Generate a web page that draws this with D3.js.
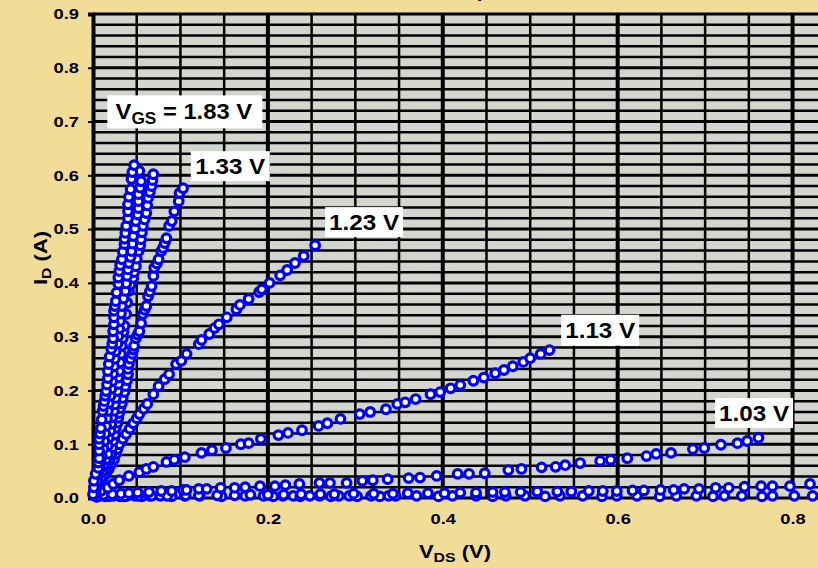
<!DOCTYPE html>
<html>
<head>
<meta charset="utf-8">
<script src="https://cdn.jsdelivr.net/npm/d3@7"></script>
<style>
  body { margin: 0; background: #F1DD97; }
  svg { display: block; font-family: Arial, "Liberation Sans", sans-serif; }
</style>
</head>
<body>
<svg id="chart" width="818" height="568"></svg>
<script>
// Drain current I_D (A) versus drain voltage V_DS (V), one array per gate voltage.
// Each entry is [V_DS, I_D].
const vgs183 = [[0.000,0.007],[0.001,0.020],[0.001,0.032],[0.003,0.045],[0.006,0.056],[0.006,0.066],[0.007,0.074],[0.007,0.088],[0.007,0.100],[0.007,0.110],[0.008,0.120],[0.009,0.130],[0.010,0.146],[0.011,0.162],[0.012,0.171],[0.013,0.180],[0.014,0.190],[0.015,0.199],[0.016,0.211],[0.017,0.223],[0.017,0.236],[0.018,0.249],[0.019,0.263],[0.021,0.277],[0.022,0.287],[0.023,0.297],[0.023,0.310],[0.024,0.323],[0.024,0.336],[0.024,0.348],[0.025,0.357],[0.026,0.366],[0.027,0.382],[0.029,0.398],[0.029,0.410],[0.030,0.422],[0.031,0.433],[0.033,0.444],[0.034,0.458],[0.036,0.472],[0.036,0.482],[0.037,0.493],[0.038,0.506],[0.040,0.520],[0.040,0.533],[0.040,0.546],[0.041,0.560],[0.043,0.574],[0.044,0.593],[0.045,0.606],[0.047,0.619]];
const vgs163 = [[0.001,0.012],[0.003,0.022],[0.005,0.032],[0.006,0.043],[0.008,0.054],[0.009,0.066],[0.010,0.078],[0.012,0.092],[0.013,0.106],[0.014,0.120],[0.015,0.134],[0.016,0.148],[0.017,0.162],[0.018,0.176],[0.020,0.190],[0.021,0.203],[0.022,0.217],[0.023,0.231],[0.024,0.245],[0.025,0.259],[0.026,0.273],[0.028,0.287],[0.029,0.301],[0.030,0.315],[0.031,0.329],[0.032,0.343],[0.033,0.357],[0.035,0.371],[0.037,0.385],[0.038,0.399],[0.039,0.413],[0.040,0.425],[0.041,0.437],[0.043,0.448],[0.044,0.459],[0.045,0.473],[0.046,0.487],[0.048,0.501],[0.049,0.515],[0.051,0.527],[0.052,0.539],[0.052,0.552],[0.052,0.565],[0.054,0.577],[0.055,0.589],[0.053,0.608]];
const vgs143 = [[0.002,0.010],[0.003,0.019],[0.006,0.028],[0.009,0.037],[0.011,0.050],[0.013,0.063],[0.015,0.072],[0.017,0.082],[0.017,0.097],[0.018,0.112],[0.020,0.125],[0.021,0.138],[0.022,0.150],[0.024,0.162],[0.025,0.174],[0.026,0.186],[0.028,0.199],[0.029,0.212],[0.029,0.224],[0.030,0.236],[0.031,0.252],[0.032,0.268],[0.033,0.283],[0.034,0.297],[0.035,0.309],[0.036,0.320],[0.038,0.342],[0.039,0.363],[0.041,0.385],[0.043,0.397],[0.046,0.409],[0.047,0.420],[0.049,0.431],[0.050,0.445],[0.052,0.459],[0.054,0.470],[0.055,0.481],[0.056,0.494],[0.057,0.506],[0.059,0.518],[0.061,0.530],[0.062,0.544],[0.063,0.558],[0.065,0.569],[0.067,0.580],[0.068,0.591],[0.069,0.602]];
const vgs133 = [[0.003,0.013],[0.007,0.026],[0.010,0.036],[0.013,0.045],[0.015,0.054],[0.017,0.063],[0.019,0.072],[0.021,0.082],[0.022,0.094],[0.023,0.106],[0.025,0.118],[0.026,0.130],[0.028,0.140],[0.029,0.149],[0.030,0.158],[0.031,0.167],[0.033,0.176],[0.034,0.186],[0.036,0.197],[0.037,0.208],[0.039,0.219],[0.040,0.230],[0.040,0.240],[0.041,0.249],[0.043,0.259],[0.045,0.268],[0.046,0.276],[0.047,0.283],[0.049,0.297],[0.051,0.304],[0.053,0.310],[0.055,0.325],[0.057,0.342],[0.059,0.350],[0.061,0.357],[0.063,0.375],[0.065,0.384],[0.067,0.394],[0.069,0.413],[0.070,0.428],[0.073,0.436],[0.075,0.444],[0.078,0.459],[0.080,0.465],[0.082,0.474],[0.084,0.483],[0.087,0.506],[0.090,0.515],[0.093,0.533],[0.098,0.552],[0.099,0.567],[0.103,0.576]];
const vgs123 = [[0.003,0.010],[0.007,0.026],[0.011,0.036],[0.015,0.045],[0.018,0.054],[0.021,0.063],[0.024,0.072],[0.026,0.082],[0.028,0.091],[0.030,0.100],[0.034,0.110],[0.038,0.119],[0.042,0.129],[0.046,0.139],[0.050,0.148],[0.053,0.156],[0.058,0.166],[0.062,0.175],[0.069,0.193],[0.075,0.208],[0.082,0.221],[0.087,0.230],[0.095,0.249],[0.101,0.255],[0.107,0.268],[0.121,0.286],[0.124,0.294],[0.133,0.305],[0.139,0.316],[0.144,0.323],[0.153,0.336],[0.164,0.351],[0.168,0.359],[0.178,0.370],[0.190,0.383],[0.193,0.388],[0.202,0.400],[0.214,0.414],[0.222,0.424],[0.231,0.437],[0.241,0.450],[0.254,0.470]];
const vgs113 = [[0.002,0.008],[0.009,0.013],[0.017,0.019],[0.023,0.026],[0.030,0.033],[0.041,0.041],[0.053,0.048],[0.061,0.054],[0.069,0.058],[0.084,0.067],[0.093,0.071],[0.105,0.076],[0.124,0.084],[0.136,0.089],[0.152,0.093],[0.169,0.100],[0.178,0.102],[0.192,0.110],[0.212,0.117],[0.223,0.121],[0.239,0.126],[0.258,0.134],[0.268,0.139],[0.283,0.147],[0.305,0.156],[0.317,0.160],[0.335,0.165],[0.348,0.175],[0.357,0.178],[0.369,0.184],[0.386,0.193],[0.397,0.197],[0.409,0.204],[0.420,0.210],[0.435,0.218],[0.447,0.224],[0.460,0.232],[0.470,0.238],[0.480,0.245],[0.492,0.253],[0.500,0.260],[0.512,0.268],[0.522,0.275]];
const vgs103 = [[0.001,0.005],[0.012,0.006],[0.022,0.007],[0.032,0.008],[0.041,0.009],[0.051,0.010],[0.064,0.011],[0.078,0.013],[0.090,0.013],[0.103,0.015],[0.107,0.015],[0.121,0.017],[0.130,0.017],[0.146,0.019],[0.162,0.019],[0.174,0.020],[0.191,0.022],[0.208,0.022],[0.220,0.024],[0.236,0.026],[0.259,0.028],[0.271,0.028],[0.290,0.028],[0.308,0.032],[0.320,0.033],[0.337,0.035],[0.361,0.037],[0.374,0.038],[0.393,0.041],[0.417,0.045],[0.430,0.045],[0.448,0.046],[0.475,0.052],[0.490,0.054],[0.513,0.057],[0.529,0.058],[0.540,0.061],[0.557,0.065],[0.580,0.069],[0.592,0.071],[0.611,0.074],[0.633,0.078],[0.644,0.082],[0.661,0.084],[0.686,0.091],[0.699,0.093],[0.718,0.099],[0.737,0.102],[0.748,0.106],[0.761,0.112]];
const vgs093 = [[0.004,0.002],[0.018,0.003],[0.036,0.003],[0.052,0.004],[0.067,0.004],[0.085,0.004],[0.106,0.005],[0.121,0.005],[0.142,0.005],[0.162,0.005],[0.180,0.006],[0.200,0.006],[0.218,0.006],[0.238,0.007],[0.260,0.007],[0.276,0.007],[0.298,0.008],[0.321,0.008],[0.343,0.008],[0.360,0.009],[0.383,0.009],[0.402,0.009],[0.420,0.010],[0.438,0.010],[0.457,0.011],[0.471,0.011],[0.489,0.011],[0.508,0.012],[0.531,0.012],[0.547,0.012],[0.567,0.013],[0.583,0.013],[0.599,0.013],[0.617,0.014],[0.630,0.014],[0.649,0.015],[0.664,0.015],[0.676,0.017],[0.693,0.017],[0.712,0.019],[0.727,0.019],[0.745,0.021],[0.764,0.022],[0.777,0.022],[0.797,0.022],[0.820,0.026],[0.838,0.027],[0.857,0.028]];
const vgs083 = [[0.005,0.003],[0.008,0.004],[0.014,0.003],[0.023,0.004],[0.031,0.003],[0.039,0.004],[0.048,0.004],[0.056,0.003],[0.065,0.004],[0.077,0.004],[0.090,0.003],[0.105,0.004],[0.122,0.004],[0.147,0.003],[0.174,0.004],[0.195,0.004],[0.206,0.003],[0.217,0.004],[0.229,0.004],[0.237,0.003],[0.248,0.004],[0.259,0.004],[0.272,0.003],[0.281,0.004],[0.293,0.004],[0.302,0.003],[0.318,0.004],[0.328,0.003],[0.338,0.004],[0.346,0.004],[0.370,0.004],[0.395,0.003],[0.411,0.004],[0.438,0.004],[0.457,0.003],[0.472,0.004],[0.494,0.004],[0.517,0.003],[0.534,0.004],[0.560,0.004],[0.582,0.003],[0.599,0.004],[0.622,0.004],[0.648,0.003],[0.667,0.004],[0.690,0.004],[0.709,0.003],[0.722,0.004],[0.742,0.004],[0.765,0.003],[0.777,0.004],[0.802,0.004],[0.823,0.004],[0.845,0.004]];

// Series drawn bottom to top.
const seriesList = [vgs083, vgs093, vgs103, vgs113, vgs123, vgs133, vgs143, vgs163, vgs183];

// Curve labels.
const labelTexts = ["1.33 V", "1.23 V", "1.13 V", "1.03 V"];
const mainLabelPrefix = "V";
const mainLabelSub = "GS";
const mainLabelValue = " = 1.83 V";

// Axis ticks.
const xTicks = [0.0, 0.2, 0.4, 0.6, 0.8];
const yTicks = [0.0, 0.1, 0.2, 0.3, 0.4, 0.5, 0.6, 0.7, 0.8, 0.9];
const chartTitle = "Output Characteristics";

(function draw() {
  const svg = d3.select("#chart");
  const W = 818, H = 568;
  const plotLeft = 93, plotTop = 14, plotRight = 880, plotBottom = 498;
  const FONT = "Arial, 'Liberation Sans', sans-serif";
  const wide = 1.22;   // horizontal widening of all lettering

  const x = d3.scaleLinear().domain([0, 0.9]).range([plotLeft, plotRight]);
  const y = d3.scaleLinear().domain([0, 0.9]).range([plotBottom, plotTop]);

  svg.append("rect").attr("width", W).attr("height", H).attr("fill", "#F1DD97");

  // Title (mostly above the visible area)
  svg.append("g").attr("transform", "translate(441,-2)")
    .append("text").attr("transform", `scale(${wide},1)`)
    .attr("font-size", 17).attr("font-weight", "bold").attr("fill", "#000")
    .text(chartTitle);

  // Plot background
  svg.append("rect")
    .attr("x", x(0)).attr("y", y(0.9))
    .attr("width", x(0.9) - x(0)).attr("height", y(0) - y(0.9) + 2)
    .attr("fill", "#D2D6CF");

  const grid = svg.append("g");
  const hVals = d3.range(0, 46).map(i => i * 0.02);
  grid.selectAll("line.h").data(hVals).join("line")
    .attr("class", "h")
    .attr("x1", x(0)).attr("x2", x(0.9))
    .attr("y1", d => y(d)).attr("y2", d => y(d))
    .attr("stroke", "#000")
    .attr("stroke-width", d => (Math.round(d * 50) % 5 === 0) ? 3 : 2.5);

  const vVals = d3.range(1, 19).map(i => i * 0.05);
  grid.selectAll("line.v").data(vVals).join("line")
    .attr("class", "v")
    .attr("y1", y(0)).attr("y2", y(0.9))
    .attr("x1", d => x(d)).attr("x2", d => x(d))
    .attr("stroke", "#000")
    .attr("stroke-width", d => (Math.round(d * 20) % 4 === 0) ? 4 : 2.5);

  // Y axis
  const yAxis = d3.axisLeft(y).tickValues(yTicks).tickFormat(d3.format(".1f")).tickSize(5).tickPadding(9);
  const gy = svg.append("g").attr("transform", `translate(${x(0)},0)`).call(yAxis);
  gy.select(".domain").attr("stroke", "#000").attr("stroke-width", 4);
  gy.selectAll(".tick line").attr("stroke", "#000").attr("stroke-width", 2);
  gy.selectAll(".tick text")
    .attr("font-size", 15).attr("font-weight", "bold").attr("fill", "#000").attr("font-family", FONT)
    .attr("x", -14 / wide).attr("transform", `scale(${wide},1)`);

  // X axis
  const xAxis = d3.axisBottom(x).tickValues(xTicks).tickFormat(d3.format(".1f")).tickSize(0).tickPadding(15);
  const gx = svg.append("g").attr("transform", `translate(0,${y(0)})`).call(xAxis);
  gx.select(".domain").remove();
  gx.selectAll(".tick text")
    .attr("font-size", 15).attr("font-weight", "bold").attr("fill", "#000").attr("font-family", FONT)
    .attr("transform", `scale(${wide},1)`);

  // Data points
  const pts = svg.append("g");
  seriesList.forEach(s => {
    pts.append("g").selectAll("circle").data(s).join("circle")
      .attr("cx", d => x(d[0])).attr("cy", d => y(d[1]))
      .attr("r", 4.3)
      .attr("fill", "#fff").attr("stroke", "#0000FF").attr("stroke-width", 3.2);
  });

  // Labels: white boxes with bold text; positions given in data units
  const labelLayout = [
    { text: labelTexts[0], cx: 0.157, cy: 0.617, w: 79, h: 30 },
    { text: labelTexts[1], cx: 0.310, cy: 0.513, w: 78, h: 30 },
    { text: labelTexts[2], cx: 0.580, cy: 0.312, w: 78, h: 31 },
    { text: labelTexts[3], cx: 0.756, cy: 0.158, w: 78, h: 30 }
  ];
  const lab = svg.append("g");
  labelLayout.forEach(L => {
    const cx = x(L.cx), cy = y(L.cy);
    lab.append("rect").attr("x", cx - L.w / 2).attr("y", cy - L.h / 2)
      .attr("width", L.w).attr("height", L.h).attr("fill", "#fff");
    lab.append("g").attr("transform", `translate(${cx},${cy + 8})`)
      .append("text").attr("transform", "scale(1.1,1)")
      .attr("text-anchor", "middle").attr("font-size", 22).attr("font-weight", "bold")
      .attr("fill", "#000").text(L.text);
  });
  {
    const cx = x(0.105), cy = y(0.718);
    lab.append("rect").attr("x", cx - 77.5).attr("y", cy - 16.5).attr("width", 155).attr("height", 33).attr("fill", "#fff");
    const t = lab.append("g").attr("transform", `translate(${cx - 1},${cy + 7})`)
      .append("text").attr("transform", "scale(1.08,1)")
      .attr("text-anchor", "middle").attr("font-size", 22).attr("font-weight", "bold").attr("fill", "#000");
    t.append("tspan").text(mainLabelPrefix);
    t.append("tspan").attr("font-size", 16).attr("dy", 5).text(mainLabelSub);
    t.append("tspan").attr("dy", -5).text(mainLabelValue);
  }

  // Axis titles
  const yt = svg.append("g")
    .attr("transform", `translate(47,${(y(0) + y(0.9)) / 2 + 2}) rotate(-90)`)
    .append("text").attr("transform", `scale(${wide},1)`)
    .attr("text-anchor", "middle").attr("font-size", 18).attr("font-weight", "bold").attr("fill", "#000");
  yt.append("tspan").text("I");
  yt.append("tspan").attr("font-size", 13).attr("dy", 4).text("D");
  yt.append("tspan").attr("dy", -4).text(" (A)");

  const xt = svg.append("g").attr("transform", "translate(455,558)")
    .append("text").attr("transform", `scale(${wide},1)`)
    .attr("text-anchor", "middle").attr("font-size", 18).attr("font-weight", "bold").attr("fill", "#000");
  xt.append("tspan").text("V");
  xt.append("tspan").attr("font-size", 13).attr("dy", 4).text("DS");
  xt.append("tspan").attr("dy", -4).text(" (V)");
})();
</script>
</body>
</html>
